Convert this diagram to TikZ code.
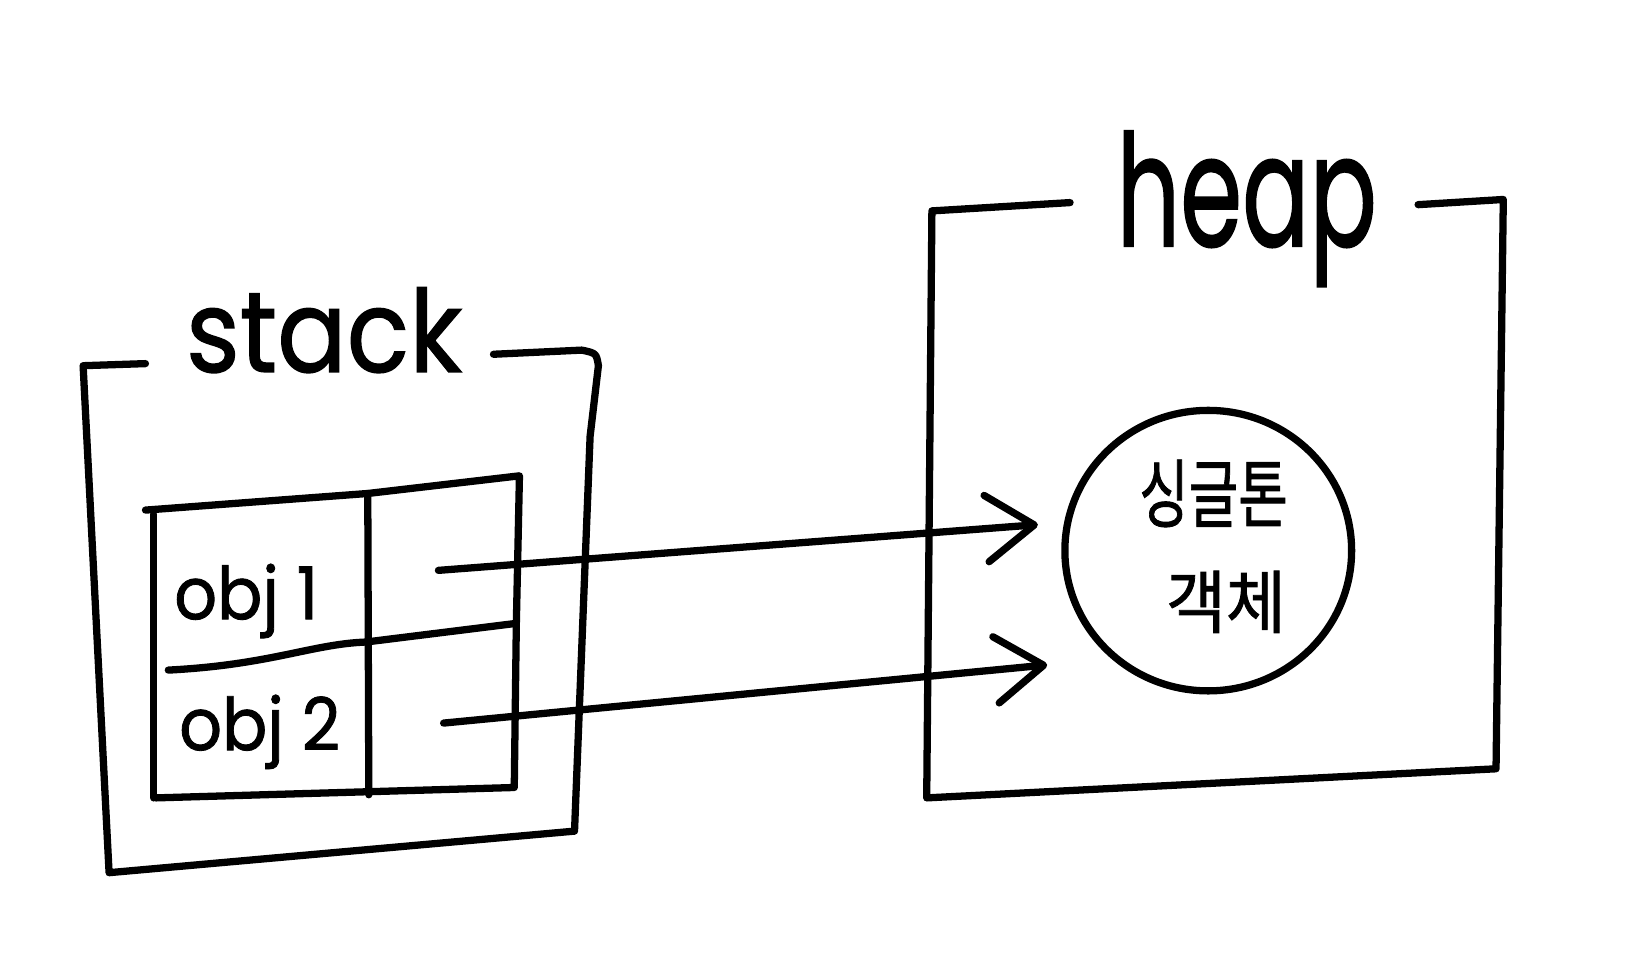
\documentclass[tikz,border=0pt]{standalone}
\usepackage{fontspec}
\setmainfont{Poppins}[FakeBold=1.2]
\newfontfamily\kofont{Noto Sans CJK KR}[FakeBold=1.2]
\usetikzlibrary{arrows.meta}
\begin{document}
\begin{tikzpicture}[x=1pt,y=-1pt,
  pen/.style={line width=7pt,line cap=round,line join=round},
  arrowline/.style={pen,-{Straight Barb[length=46pt,width=64pt,round]}},
  lbl/.style={inner sep=0pt,anchor=base}]
\useasboundingbox[fill=white] (0,0) rectangle (1568,928);
% stack box
\draw[pen] (140,350) -- (80,352) -- (105,840) -- (553,800) -- (568,420) -- (576,352) .. controls (574,340) .. (560,337) -- (475,341);
\node[lbl,font=\fontsize{110}{110}\selectfont,xscale=0.9] (stack) at (312,358) {stack};
% table
\draw[pen] (140,491) -- (354,475) -- (500,458) -- (497,600) -- (495,758) -- (150,768);
\draw[pen] (148,495) -- (148,768);
\draw[pen] (354,475) -- (355,765);
\draw[pen] (162,645) .. controls (260,640) and (300,620) .. (352,618) -- (497,600);
\node[lbl,font=\fontsize{70}{70}\selectfont,xscale=0.92] (obj1) at (237,596) {obj 1};
\node[lbl,font=\fontsize{70}{70}\selectfont,xscale=0.92] (obj2) at (250,722) {obj 2};
% heap box
\draw[pen] (1030,195) -- (897,203) -- (892,768) -- (1440,740) -- (1447,192) -- (1365,197);
\node[lbl,font=\fontsize{150}{150}\selectfont,xscale=0.64,yscale=1.0] (heap) at (1200,237) {heap};
% object circle
\draw[pen] (1163,530) ellipse [x radius=138,y radius=135];
\node[lbl,font=\kofont\fontsize{72}{72}\selectfont,xscale=0.72] (single) at (1168,502) {싱글톤};
\node[lbl,font=\kofont\fontsize{66}{66}\selectfont,xscale=0.95] (obj) at (1180,604) {객체};
% arrows
\coordinate (s1) at (422,549);
\coordinate (t1) at (999,505);
\coordinate (s2) at (427,696);
\coordinate (t2) at (1008,640);
\draw[arrowline] (s1) -- (t1);
\draw[arrowline] (s2) -- (t2);
\end{tikzpicture}
\end{document}
